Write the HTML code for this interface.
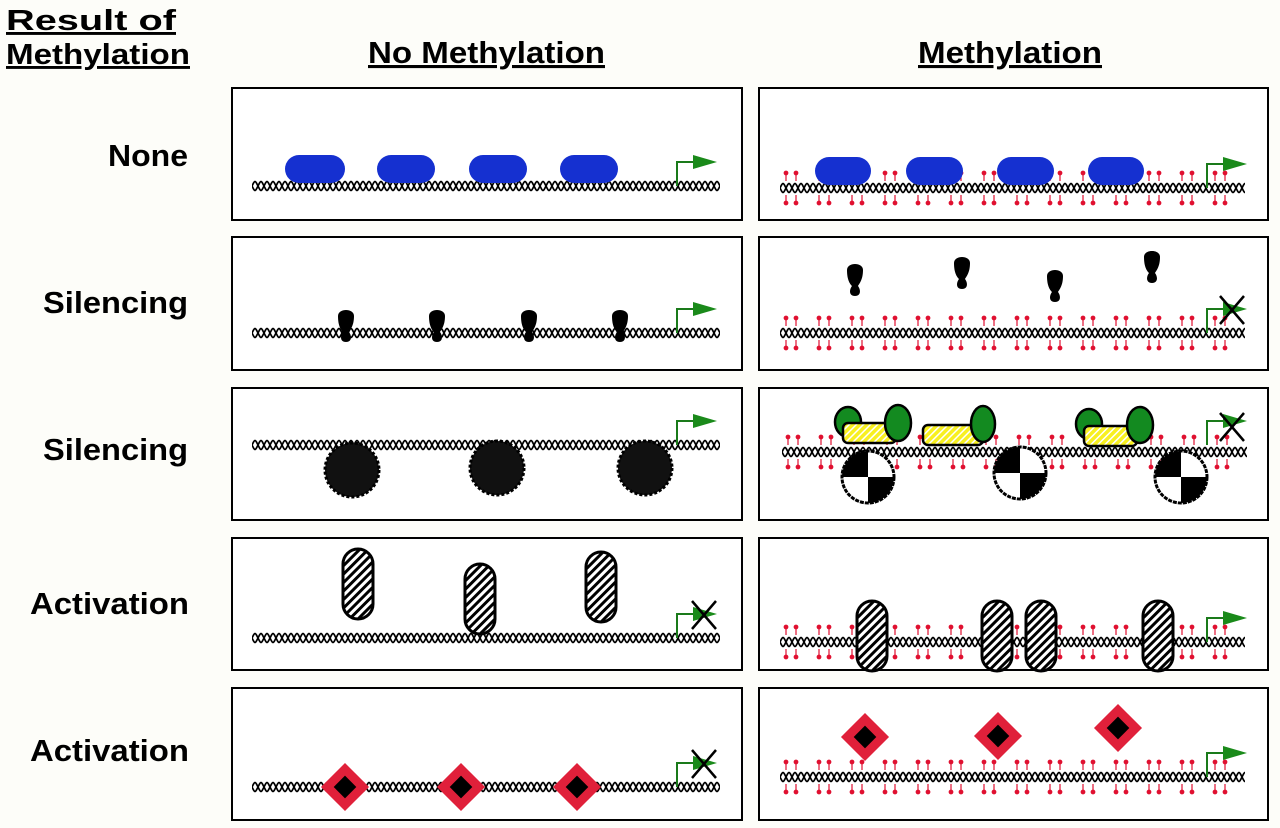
<!DOCTYPE html>
<html><head><meta charset="utf-8"><style>
html,body{margin:0;padding:0;background:#fdfdf9;}
svg{display:block;}
text{font-family:"Liberation Sans",Arial,sans-serif;font-weight:bold;fill:#000;}
</style></head><body>
<svg width="1280" height="828" viewBox="0 0 1280 828" xmlns="http://www.w3.org/2000/svg">
<defs>
<pattern id="dna" x="0" y="0" width="12" height="14" patternUnits="userSpaceOnUse">
<path d="M0,7 C3,1 3,1 6,7 S9,13 12,7" fill="none" stroke="#000" stroke-width="1.7"/>
<path d="M0,7 C3,13 3,13 6,7 S9,1 12,7" fill="none" stroke="#000" stroke-width="1.7"/>
</pattern>
<pattern id="meth" x="0" y="0" width="33" height="42" patternUnits="userSpaceOnUse">
<g stroke="#e01030" stroke-width="1.2" fill="#e01030">
<line x1="6" y1="6" x2="6" y2="14"/><circle cx="6" cy="6" r="1.8"/>
<line x1="16" y1="6" x2="16" y2="14"/><circle cx="16" cy="6" r="1.8"/>
<line x1="6" y1="28" x2="6" y2="36"/><circle cx="6" cy="36" r="1.8"/>
<line x1="16" y1="28" x2="16" y2="36"/><circle cx="16" cy="36" r="1.8"/>
</g>
</pattern>
<pattern id="hatch" width="6" height="6" patternUnits="userSpaceOnUse" patternTransform="rotate(45)">
<rect width="6" height="6" fill="#fff"/><rect width="3" height="6" fill="#000"/>
</pattern>
<pattern id="yhatch" width="5" height="5" patternUnits="userSpaceOnUse" patternTransform="rotate(45)">
<rect width="5" height="5" fill="#f8f020"/><rect width="1.5" height="5" fill="#fff"/>
</pattern>
<g id="dnaL"><rect x="0" y="0" width="468" height="14" fill="url(#dna)"/></g>
<g id="dnaR"><rect x="0" y="0" width="465" height="42" fill="url(#meth)"/><rect x="0" y="14" width="465" height="14" fill="url(#dna)"/></g>
<g id="arrow"><path d="M0,0 V-24 H16" fill="none" stroke="#1a7a1a" stroke-width="2"/><path d="M16,-31 L40,-24 L16,-17 Z" fill="#1a8a1a"/></g>
<g id="xx"><path d="M-12,-14 L12,14 M12,-14 L-12,14" stroke="#000" stroke-width="2.5"/></g>
<g id="blob"><path d="M-8,-12 C-8,-20 8,-20 8,-12 C8,-2 4,2 3,4 C6,8 6,14 0,14 C-6,14 -6,8 -3,4 C-5,2 -8,-2 -8,-12Z" fill="#000"/></g>
<g id="fuzzy"><circle r="27" fill="#111" stroke="#000" stroke-width="3" stroke-dasharray="3 2"/></g>
<g id="disc"><circle r="26" fill="#fff" stroke="#000" stroke-width="3" stroke-dasharray="4 1"/><path d="M0,0 V-26 A26,26 0 0 0 -26,0 Z" fill="#000"/><path d="M0,0 V26 A26,26 0 0 0 26,0 Z" fill="#000"/></g>
<g id="pill"><rect x="-15" y="0" width="30" height="70" rx="15" fill="url(#hatch)" stroke="#000" stroke-width="3"/></g>
<g id="diam"><rect x="-17" y="-17" width="34" height="34" fill="#e0203a" transform="rotate(45)"/><rect x="-8" y="-8" width="16" height="16" fill="#000" transform="rotate(45)"/></g>
</defs>

<text x="6" y="30" font-size="29" textLength="170" lengthAdjust="spacingAndGlyphs" text-decoration="underline">Result of</text>
<text x="6" y="64" font-size="29" textLength="184" lengthAdjust="spacingAndGlyphs" text-decoration="underline">Methylation</text>
<text x="368" y="63" font-size="31" textLength="237" lengthAdjust="spacingAndGlyphs" text-decoration="underline">No Methylation</text>
<text x="918" y="63" font-size="31" textLength="184" lengthAdjust="spacingAndGlyphs" text-decoration="underline">Methylation</text>
<g font-size="31">
<text x="108" y="166" textLength="80" lengthAdjust="spacingAndGlyphs">None</text>
<text x="43" y="313" textLength="145" lengthAdjust="spacingAndGlyphs">Silencing</text>
<text x="43" y="460" textLength="145" lengthAdjust="spacingAndGlyphs">Silencing</text>
<text x="30" y="614" textLength="159" lengthAdjust="spacingAndGlyphs">Activation</text>
<text x="30" y="761" textLength="159" lengthAdjust="spacingAndGlyphs">Activation</text>
</g>

<g fill="#fff" stroke="#000" stroke-width="2">
<rect x="232" y="88" width="510" height="132"/><rect x="759" y="88" width="509" height="132"/>
<rect x="232" y="237" width="510" height="133"/><rect x="759" y="237" width="509" height="133"/>
<rect x="232" y="388" width="510" height="132"/><rect x="759" y="388" width="509" height="132"/>
<rect x="232" y="538" width="510" height="132"/><rect x="759" y="538" width="509" height="132"/>
<rect x="232" y="688" width="510" height="132"/><rect x="759" y="688" width="509" height="132"/>
</g>

<!-- Row1 -->
<use href="#dnaL" transform="translate(252,179)"/>
<g fill="#1530d0"><rect x="285" y="155" width="60" height="28" rx="14"/><rect x="377" y="155" width="58" height="28" rx="14"/><rect x="469" y="155" width="58" height="28" rx="14"/><rect x="560" y="155" width="58" height="28" rx="14"/></g>
<use href="#arrow" x="677" y="186"/>
<use href="#dnaR" transform="translate(780,167)"/>
<g fill="#1530d0"><rect x="815" y="157" width="56" height="28" rx="14"/><rect x="906" y="157" width="57" height="28" rx="14"/><rect x="997" y="157" width="57" height="28" rx="14"/><rect x="1088" y="157" width="56" height="28" rx="14"/></g>
<use href="#arrow" x="1207" y="188"/>

<!-- Row2 -->
<use href="#dnaL" transform="translate(252,326)"/>
<use href="#blob" x="346" y="328"/><use href="#blob" x="437" y="328"/><use href="#blob" x="529" y="328"/><use href="#blob" x="620" y="328"/>
<use href="#arrow" x="677" y="333"/>
<use href="#dnaR" transform="translate(780,312)"/>
<use href="#blob" x="855" y="282"/><use href="#blob" x="962" y="275"/><use href="#blob" x="1055" y="288"/><use href="#blob" x="1152" y="269"/>
<use href="#arrow" x="1207" y="333"/><use href="#xx" x="1232" y="310"/>

<!-- Row3 -->
<use href="#dnaL" transform="translate(252,438)"/>
<use href="#fuzzy" x="352" y="470"/><use href="#fuzzy" x="497" y="468"/><use href="#fuzzy" x="645" y="468"/>
<use href="#arrow" x="677" y="445"/>
<use href="#dnaR" transform="translate(782,431)"/>
<use href="#disc" x="868" y="477"/><use href="#disc" x="1020" y="473"/><use href="#disc" x="1181" y="477"/>
<g stroke="#000" stroke-width="2.5">
<ellipse cx="848" cy="422" rx="13" ry="15" fill="#138a20"/>
<rect x="843" y="423" width="53" height="20" rx="5" fill="url(#yhatch)"/>
<ellipse cx="898" cy="423" rx="13" ry="18" fill="#138a20"/>
<rect x="923" y="425" width="60" height="20" rx="5" fill="url(#yhatch)"/>
<ellipse cx="983" cy="424" rx="12" ry="18" fill="#138a20"/>
<ellipse cx="1089" cy="424" rx="13" ry="15" fill="#138a20"/>
<rect x="1084" y="426" width="53" height="20" rx="5" fill="url(#yhatch)"/>
<ellipse cx="1140" cy="425" rx="13" ry="18" fill="#138a20"/>
</g>
<use href="#arrow" x="1207" y="445"/><use href="#xx" x="1232" y="427"/>

<!-- Row4 -->
<use href="#pill" x="358" y="549"/><use href="#pill" x="480" y="564"/><use href="#pill" x="601" y="552"/>
<use href="#dnaL" transform="translate(252,631)"/>
<use href="#arrow" x="677" y="638"/><use href="#xx" x="704" y="615"/>
<use href="#dnaR" transform="translate(780,621)"/>
<use href="#pill" x="872" y="601"/><use href="#pill" x="997" y="601"/><use href="#pill" x="1041" y="601"/><use href="#pill" x="1158" y="601"/>
<use href="#arrow" x="1207" y="642"/>

<!-- Row5 -->
<use href="#dnaL" transform="translate(252,780)"/>
<use href="#diam" x="345" y="787"/><use href="#diam" x="461" y="787"/><use href="#diam" x="577" y="787"/>
<use href="#arrow" x="677" y="787"/><use href="#xx" x="704" y="764"/>
<use href="#dnaR" transform="translate(780,756)"/>
<use href="#diam" x="865" y="737"/><use href="#diam" x="998" y="736"/><use href="#diam" x="1118" y="728"/>
<use href="#arrow" x="1207" y="777"/>
</svg>
</body></html>
